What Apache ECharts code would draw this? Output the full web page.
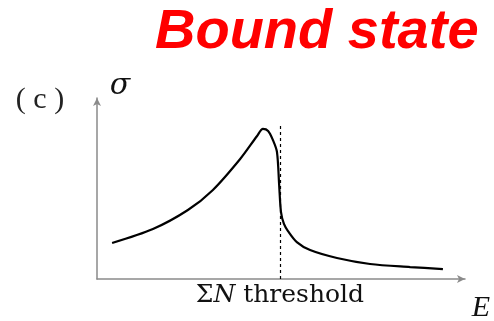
<!DOCTYPE html>
<html><head><meta charset="utf-8">
<script src="https://cdn.jsdelivr.net/npm/echarts@6/dist/echarts.min.js"></script>
<style>html,body{margin:0;padding:0;background:#fff}#c{width:494px;height:321px}</style>
</head><body><div id="c"></div>
<script>
// Energy (arbitrary units) and cross-section sigma (arbitrary units)
var energy = [4.1, 15.2, 24.7, 31.5, 38.9, 43.5, 45.1, 46.5, 47.8, 48.9, 49.5, 50.0, 50.8, 51.9, 54.3, 57.9, 65.2, 74.2, 85.1, 94.0];
var sigma  = [19.9, 27.6, 38.1, 49.2, 66.3, 79.0, 82.9, 81.8, 76.8, 70.2, 51.9, 37.0, 30.4, 26.5, 20.4, 16.0, 11.6, 8.3, 6.6, 5.5];
var thresholdE = 49.7;
var thresholdTop = 86;
var titleText = 'Bound state';
var panelText = '( c )';

var pts = energy.map(function(e, i){ return [e, sigma[i]]; });
var chart = echarts.init(document.getElementById('c'), null, {renderer:'canvas'});
var axisCol = '#8a8a8a';
var serif = '"Liberation Serif", "DejaVu Serif", serif';
var dserif = '"DejaVu Serif", serif';
chart.setOption({
  animation: false,
  grid: {left: 97, right: 29, top: 98, bottom: 42},
  xAxis: {type: 'value', min: 0, max: 100,
    axisLine: {show: true, lineStyle: {color: axisCol, width: 1.5}, symbol: ['none','arrow'], symbolSize: [6, 8]},
    axisTick: {show: false}, axisLabel: {show: false}, splitLine: {show: false}},
  yAxis: {type: 'value', min: 0, max: 100,
    axisLine: {show: true, lineStyle: {color: axisCol, width: 1.5}, symbol: ['none','arrow'], symbolSize: [6, 8]},
    axisTick: {show: false}, axisLabel: {show: false}, splitLine: {show: false}},
  graphic: [
    {type: 'text', x: 155, y: 33, style: {text: titleText, font: 'italic bold 56px "Liberation Sans", Arial, sans-serif', fill: '#ff0000', verticalAlign: 'middle', align: 'left'}},
    {type: 'text', x: 40, y: 100, style: {text: panelText, font: '30px ' + serif, fill: '#222', verticalAlign: 'middle', align: 'center'}},
    {type: 'text', x: 120, y: 86, style: {text: 'σ', font: 'italic 30px ' + dserif, fill: '#111', verticalAlign: 'middle', align: 'center'}},
    {type: 'text', x: 481, y: 308, style: {text: 'E', font: 'italic 30px ' + serif, fill: '#111', verticalAlign: 'middle', align: 'center'}}
  ],
  series: [{
    type: 'line', data: pts, showSymbol: false, smooth: 0.3,
    lineStyle: {color: '#000', width: 2.2},
    markLine: {
      silent: true, symbol: ['none','none'],
      lineStyle: {color: '#000', type: [3, 3], width: 1.2},
      label: {show: true, position: 'start', distance: 4,
        formatter: '{s|Σ}{n|N}{s| threshold}',
        rich: {s: {fontSize: 25, fontFamily: dserif, color: '#111'}, n: {fontSize: 25, fontStyle: 'italic', fontFamily: dserif, color: '#111'}}},
      data: [[{coord: [thresholdE, 0]}, {coord: [thresholdE, thresholdTop]}]]
    }
  }]
});
</script></body></html>
